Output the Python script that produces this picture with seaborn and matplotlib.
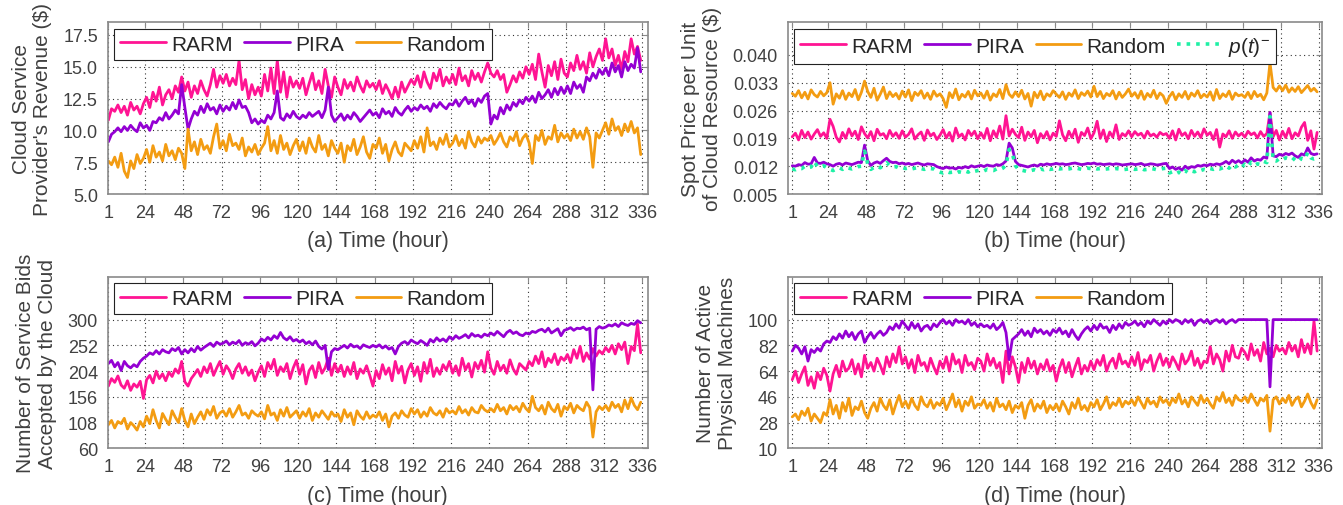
"""
4-panel comparison: RARM / PIRA / Random over 336 hours
"""

import matplotlib.pyplot as plt
import matplotlib.ticker as mticker
import numpy as np
import seaborn as sns

# ─── data (every other hour) ─────────────────────────────────────
HOURS = list(range(1, 337, 2))
XTICKS = [1, 24, 48, 72, 96, 120, 144, 168, 192, 216, 240, 264, 288, 312, 336]

# (a) revenue ($)
rev_rarm = [
    10.8, 11.7, 11.5, 12.0, 11.4, 11.9, 11.2, 12.2, 11.6, 11.9, 11.3, 12.1,
    12.6, 11.8, 13.0, 12.3, 13.4, 12.0, 12.8, 13.2, 12.5, 13.5, 13.0, 14.2,
    13.1, 13.8, 12.6, 13.5, 12.9, 13.9, 13.2, 12.7, 13.6, 14.8, 13.4, 14.3,
    13.7, 14.4, 13.5, 14.1, 13.6, 15.5, 13.2, 14.0, 12.5, 13.6, 12.8, 13.4,
    12.7, 14.4, 13.1, 14.9, 12.9, 15.5, 13.0, 14.6, 12.6, 14.2, 13.4, 13.9,
    13.3, 14.1, 12.8, 13.7, 14.5, 13.2, 13.9, 12.9, 14.8, 13.5, 12.6, 14.2,
    13.4, 12.8, 14.0, 13.3, 13.8, 13.1, 14.2, 13.5, 13.0, 13.9, 13.4, 13.7,
    13.2, 13.9, 12.9, 13.6, 13.1, 12.5, 13.4, 12.6, 13.8, 13.0, 13.5, 14.0,
    13.6, 14.3, 13.4, 14.6, 13.8, 13.3, 14.5, 13.9, 14.8, 13.5, 14.2, 13.7,
    14.4, 13.6, 14.9, 13.9, 14.3, 13.5, 14.7, 14.0, 14.5, 13.8, 14.6, 15.3,
    14.5, 14.2, 14.7, 14.0, 14.4, 13.0, 13.6, 14.3, 13.8, 14.6, 14.1, 15.0,
    14.4, 15.2, 14.0, 16.0, 14.6, 13.4, 15.1, 14.3, 15.4, 14.0, 15.6, 14.5,
    14.2, 15.3, 14.7, 15.9, 14.8, 15.4, 14.5, 16.1, 15.0, 15.8, 16.4, 15.5,
    17.2, 15.7, 16.4, 15.1, 15.9, 14.8, 16.2, 15.4, 17.2, 16.0, 16.6, 15.5,
]
rev_pira = [
    9.1, 9.7, 9.9, 10.2, 9.9, 10.3, 10.0, 10.4, 10.1, 9.9, 10.6, 10.2,
    10.4, 10.0, 10.7, 10.6, 11.0, 10.8, 11.4, 10.9, 11.2, 11.6, 11.3, 13.6,
    11.8, 10.1, 10.9, 11.5, 11.2, 11.9, 11.4, 12.1, 11.6, 11.8, 11.3, 12.0,
    11.5, 11.9, 11.6, 12.2, 11.7, 12.4, 11.8, 11.9, 11.4, 10.6, 10.9, 10.5,
    10.8, 10.6, 11.2, 10.9, 11.4, 13.1, 11.0, 10.8, 11.3, 11.0, 11.5, 11.1,
    10.9, 11.2, 11.0, 11.4, 11.1, 11.3, 11.5, 11.0, 11.6, 13.4, 11.2, 10.7,
    11.0, 11.3, 10.8, 11.2, 10.9, 11.4, 11.1, 10.7, 11.0, 11.3, 11.6, 11.2,
    11.4, 11.0, 11.7, 11.3, 11.5, 11.1, 11.8, 11.4, 11.2, 11.6, 11.9, 11.5,
    11.8, 11.6, 12.0, 11.7, 11.9, 11.5, 12.1, 11.8, 12.2, 11.9, 11.7, 12.1,
    12.0, 12.4, 11.9, 12.3, 12.6, 12.1, 12.4, 11.9, 12.5, 12.2, 12.7, 12.9,
    10.5, 11.2, 10.9, 11.8, 11.3, 12.0, 11.6, 12.2, 11.9, 12.4, 12.1, 12.6,
    12.3, 12.7, 12.2, 13.0, 12.5, 12.8, 13.2, 12.6, 13.3, 12.8, 13.4, 12.9,
    13.5, 12.9, 13.8, 13.3, 13.6, 13.0, 14.2, 13.9, 14.5, 14.1, 14.8, 14.4,
    14.9, 14.3, 15.3, 14.6, 15.1, 14.2, 15.4, 14.7, 15.2, 14.9, 16.5, 14.6,
]
rev_random = [
    7.6, 7.3, 7.9, 7.1, 8.2, 6.8, 6.3, 7.6, 7.0, 8.1, 7.4, 7.8,
    8.5, 7.5, 8.8, 7.9, 8.3, 7.6, 8.9, 8.0, 8.4, 7.7, 8.6, 8.2,
    7.0, 10.1, 8.4, 9.1, 8.1, 9.3, 8.5, 8.8, 8.2, 9.5, 10.5, 8.6,
    9.2, 8.4, 9.7, 8.8, 9.0, 8.5, 9.4, 8.0, 8.7, 8.3, 8.9, 8.1,
    8.6, 9.0, 10.3, 8.4, 9.2, 8.2, 9.6, 8.5, 9.0, 8.1, 8.8, 9.3,
    8.4, 9.1, 8.2, 9.4, 8.7, 8.3, 9.6, 8.5, 8.9, 8.0, 9.2, 8.6,
    8.2, 9.0, 7.5, 8.8, 8.4, 9.3, 8.1, 8.7, 9.5, 8.3, 7.8, 8.9,
    8.6, 9.4, 8.2, 8.9, 7.6, 8.5, 9.1, 8.3, 8.0, 9.0, 8.7, 8.4,
    9.2, 8.6, 9.5, 8.3, 10.2, 8.8, 9.1, 8.5, 9.4, 8.9, 9.7, 8.7,
    9.0, 9.6, 8.8, 9.3, 8.6, 9.9, 9.1, 8.7, 9.5, 9.0, 9.4, 9.2,
    9.6, 8.9, 9.3, 9.8, 9.1, 8.7, 9.5, 9.2, 9.9, 8.8, 9.4, 9.7,
    9.0, 7.4, 9.6, 9.2, 10.0, 8.9, 9.5, 9.3, 10.4, 9.1, 9.8, 9.4,
    9.7, 9.2, 10.1, 9.4, 9.9, 9.3, 10.2, 9.5, 7.1, 9.8, 9.4, 10.0,
    10.6, 9.7, 10.9, 10.0, 10.3, 9.6, 10.5, 9.9, 10.7, 9.8, 10.2, 8.1,
]

# (b) spot price, in 1/1000 $
price_rarm = [
    19.4, 20.3, 18.6, 21.0, 19.2, 20.6, 18.8, 20.1, 21.2, 19.5, 20.4, 19.0,
    23.8, 22.0, 19.3, 18.1, 20.5, 19.0, 21.4, 19.6, 20.8, 18.7, 21.9, 20.2,
    19.1, 20.7, 18.4, 21.3, 19.8, 20.2, 18.9, 21.0, 19.5, 20.4, 19.0, 20.9,
    19.3, 20.0, 21.4, 18.8, 19.9, 20.6, 18.5, 21.1, 19.6, 20.3, 18.7, 19.8,
    21.2, 19.1, 20.5, 18.3, 21.6, 19.4, 20.1, 18.6, 21.0, 19.7, 20.8, 18.9,
    20.4, 19.0, 21.5, 18.4, 20.9, 19.3, 22.1, 18.8, 24.7, 19.6, 21.3, 20.0,
    19.2, 21.8, 18.5, 20.6, 19.4, 21.0, 17.9, 20.2, 19.1, 20.7, 18.6, 20.3,
    19.5, 23.4, 19.9, 18.4, 20.8, 19.2, 21.3, 18.0, 20.5, 19.7, 21.6, 18.9,
    20.4, 23.3, 19.0, 21.1, 18.2, 20.6, 19.3, 22.4, 18.7, 20.2, 19.6, 20.9,
    19.4, 20.7, 19.8, 20.3, 19.1, 20.8, 19.6, 20.1, 19.3, 20.5, 19.9, 20.2,
    19.0, 20.9, 18.6, 21.3, 19.7, 20.4, 18.9, 21.0, 19.5, 20.6, 19.2, 21.4,
    19.8, 20.5, 18.7, 21.2, 16.8, 20.1, 19.4, 20.9, 19.0, 20.6, 19.6, 20.3,
    19.3, 20.8, 19.9, 20.4, 19.1, 20.7, 19.5, 20.2, 25.5, 19.4, 21.0, 18.6,
    20.8, 19.2, 21.5, 18.9, 20.4, 19.6, 21.8, 23.0, 18.5, 20.9, 16.3, 20.5,
]
price_pira = [
    12.1, 12.0, 12.4, 12.2, 12.9, 12.5, 12.6, 14.2, 12.8, 12.7, 13.0, 12.6,
    12.4, 12.0, 12.5, 12.7, 12.3, 12.8, 12.6, 12.4, 12.7, 13.0, 12.9, 17.3,
    13.4, 12.2, 12.8, 13.1, 12.7, 13.4, 14.0, 13.2, 12.9, 13.0, 12.6, 12.8,
    12.5, 12.7, 12.4, 12.6, 12.8, 12.5, 12.3, 12.6, 12.5, 12.4, 11.9, 11.6,
    11.4, 11.8, 11.5, 11.6, 11.3, 11.7, 11.5, 11.9, 11.6, 12.1, 11.8, 12.0,
    12.2, 11.9, 12.3, 12.1, 12.0, 12.4, 12.2, 12.6, 13.3, 17.8, 16.6, 13.2,
    12.4, 12.2, 12.0, 11.8, 12.1, 12.3, 12.0, 12.5, 12.3, 12.6, 12.4, 12.5,
    12.7, 12.5, 12.6, 12.4, 12.5, 12.7, 12.8, 12.6, 12.4, 12.5, 12.7, 12.6,
    12.8, 12.5, 12.6, 12.4, 12.5, 12.6, 12.4, 12.6, 12.5, 12.3, 12.4, 12.5,
    12.6, 12.4, 12.5, 12.7, 12.3, 12.4, 12.6, 12.5, 12.3, 12.4, 12.6, 12.7,
    11.4, 11.8, 11.2, 11.6, 11.0, 12.0, 11.4, 11.9, 11.7, 12.2, 12.0, 12.3,
    12.1, 12.5, 12.3, 12.6, 12.4, 12.7, 13.2, 12.6, 13.5, 12.9, 13.4, 12.8,
    13.6, 13.0, 14.1, 13.3, 13.7, 13.5, 14.3, 14.0, 25.5, 14.6, 14.4, 15.0,
    14.7, 15.2, 14.9, 15.3, 14.6, 14.2, 15.1, 14.8, 16.6, 15.2, 14.9, 15.1,
]
price_random = [
    30.3, 29.6, 31.0, 29.2, 30.6, 28.9, 31.2, 30.0, 29.4, 30.8, 29.7, 30.5,
    33.0, 27.6, 30.2, 29.1, 31.0, 28.8, 30.4, 29.5, 31.3, 28.7, 30.6, 33.4,
    30.8, 29.3, 31.6, 28.6, 30.1, 31.9, 29.0, 30.7, 29.5, 30.3, 28.9, 30.9,
    29.4, 31.2, 28.5, 30.6, 29.8, 31.0, 29.1, 30.4, 28.8, 30.9, 29.6, 30.2,
    29.0, 26.8, 30.5, 29.2, 31.4, 28.7, 30.1, 29.4, 30.8, 28.9, 31.1, 29.7,
    30.4, 29.1, 30.9, 28.6, 30.2, 29.5, 31.3, 29.0, 32.5, 30.1, 29.3, 30.7,
    29.5, 31.1, 28.9, 30.3, 27.1, 30.6, 29.2, 30.9, 28.7, 30.2, 29.6, 31.0,
    30.1, 29.3, 30.7, 28.8, 30.4, 29.6, 31.2, 29.0, 30.5, 29.8, 30.9, 29.4,
    32.1, 29.5, 30.8, 29.0, 30.3, 29.7, 31.0, 28.9, 30.6, 29.3, 30.2, 31.4,
    29.6, 30.5, 29.1, 30.9, 28.8, 30.3, 29.4, 31.1, 29.0, 30.4, 29.7, 27.8,
    29.5, 30.6, 28.7, 30.2, 29.3, 30.8, 28.9, 30.4, 29.6, 31.0, 29.2, 30.1,
    29.4, 30.7, 28.6, 31.3, 29.0, 30.2, 29.5, 30.9, 28.8, 30.4, 29.7, 30.0,
    29.3, 30.6, 29.0, 30.8, 29.5, 30.1, 28.7, 30.4, 38.0, 31.8, 30.9, 32.2,
    31.0, 32.4, 30.6, 31.7, 30.8, 32.0, 30.5, 31.4, 32.3, 30.9, 31.6, 30.7,
]
price_floor = [
    11.3, 11.1, 11.5, 11.4, 12.0, 11.7, 11.8, 13.2, 11.9, 11.8, 12.1, 11.6,
    11.2, 10.9, 11.3, 11.6, 11.2, 11.7, 11.5, 11.3, 11.6, 11.9, 12.0, 15.8,
    12.6, 11.2, 11.7, 12.0, 11.6, 12.3, 12.9, 12.1, 11.8, 11.9, 11.5, 11.7,
    11.4, 11.6, 11.3, 11.5, 11.7, 11.4, 11.2, 11.5, 11.4, 11.3, 10.8, 10.5,
    10.3, 10.7, 10.4, 10.5, 10.2, 10.6, 10.4, 10.8, 10.5, 11.0, 10.7, 10.9,
    11.1, 10.8, 11.2, 11.0, 10.9, 11.3, 11.1, 11.5, 12.3, 16.2, 15.3, 12.1,
    11.2, 11.0, 10.8, 10.6, 10.9, 11.1, 10.8, 11.3, 11.1, 11.4, 11.2, 11.3,
    11.5, 11.3, 11.4, 11.2, 11.3, 11.5, 11.6, 11.4, 11.2, 11.3, 11.5, 11.4,
    11.6, 11.3, 11.4, 11.2, 11.3, 11.4, 11.2, 11.4, 11.3, 11.1, 11.2, 11.3,
    11.4, 11.2, 11.3, 11.5, 11.1, 11.2, 11.4, 11.3, 11.1, 11.2, 11.4, 11.5,
    10.3, 10.6, 10.1, 10.5, 10.0, 10.9, 10.3, 10.8, 10.6, 11.1, 10.9, 11.2,
    11.0, 11.4, 11.2, 11.5, 11.3, 11.6, 12.1, 11.5, 12.4, 11.8, 12.3, 11.7,
    12.5, 11.9, 13.0, 12.2, 12.6, 12.4, 13.2, 12.9, 24.5, 13.5, 13.3, 13.9,
    13.6, 14.1, 13.8, 14.2, 13.5, 13.1, 14.0, 13.7, 15.4, 14.1, 13.8, 14.0,
]

# (c) accepted bids
bids_rarm = [
    176, 190, 183, 195, 178, 172, 186, 168, 180, 174, 185, 153,
    188, 196, 182, 204, 190, 199, 186, 202, 194, 208, 200, 222,
    184, 176, 190, 198, 207, 194, 212, 201, 218, 196, 210, 222,
    198, 214, 205, 190, 208, 218, 200, 212, 196, 206, 186, 202,
    214, 194, 220, 208, 226, 196, 212, 203, 218, 190, 210, 224,
    198, 216, 180, 205, 214, 192, 220, 200, 210, 228, 196, 218,
    202, 215, 194, 212, 198, 220, 190, 208, 200, 214, 196, 176,
    205, 190, 216, 198, 210, 186, 222, 200, 213, 182, 206, 218,
    196, 212, 185, 220, 200, 226, 194, 210, 198, 216, 206, 222,
    200, 214, 196, 228, 206, 218, 193, 220, 208, 224, 202, 240,
    210, 198, 222, 205, 215, 200, 225, 208, 198, 218, 212, 206,
    222, 214, 232, 218, 240, 212, 228, 220, 236, 216, 230, 224,
    235, 220, 244, 228, 250, 222, 238, 226, 246, 232, 242, 236,
    248, 240, 252, 236, 255, 244, 258, 218, 250, 242, 292, 238,
]
bids_pira = [
    218, 224, 212, 220, 205, 222, 214, 210, 216, 212, 222, 228,
    232, 238, 235, 242, 236, 244, 240, 238, 246, 242, 248, 236,
    244, 238, 246, 240, 250, 243, 248, 252, 256, 250, 258, 254,
    256, 260, 253, 258, 255, 261, 252, 257, 254, 259, 251, 256,
    264, 260, 267, 262, 270, 265, 276, 266, 262, 268, 260, 263,
    258, 262, 255, 259, 253, 260, 250, 245, 252, 207, 240, 246,
    244, 248, 252, 247, 254, 249, 251, 246, 253, 250, 248, 252,
    249, 253, 247, 251, 245, 248, 236, 250, 256, 259, 254, 262,
    258, 255, 261, 257, 252, 263, 258, 266, 260, 264, 259, 268,
    263, 270, 265, 268, 272, 266, 274, 269, 271, 267, 273, 270,
    275, 271, 278, 273, 268, 276, 280, 274, 277, 272, 270, 275,
    273, 278, 276, 280, 282, 277, 284, 275, 279, 283, 270, 280,
    282, 285, 280, 284, 283, 286, 281, 284, 169, 282, 287, 284,
    286, 290, 288, 292, 287, 294, 291, 289, 293, 291, 298, 294,
]
bids_random = [
    104, 112, 98, 110, 106, 116, 96, 108, 102, 94, 110, 100,
    120, 106, 132, 112, 98, 125, 114, 104, 130, 118, 108, 134,
    112, 100, 124, 106, 118, 128, 114, 132, 122, 138, 116, 126,
    130, 120, 134, 118, 128, 140, 122, 126, 116, 130, 124, 120,
    128, 115, 140, 122, 126, 112, 132, 120, 136, 118, 124, 130,
    116, 128, 120, 134, 112, 126, 118, 130, 122, 114, 128, 120,
    124, 110, 132, 118, 126, 104, 130, 120, 114, 128, 116, 122,
    118, 128, 112, 124, 100, 120, 126, 116, 130, 122, 118, 134,
    124, 132, 118, 128, 120, 136, 126, 122, 130, 118, 134, 126,
    130, 124, 138, 126, 132, 122, 136, 128, 126, 140, 132, 128,
    134, 128, 142, 130, 136, 124, 140, 132, 138, 128, 144, 134,
    128, 157, 136, 130, 140, 124, 146, 134, 128, 142, 120, 138,
    132, 144, 126, 140, 134, 130, 146, 136, 81, 128, 138, 132,
    140, 130, 146, 136, 142, 128, 150, 134, 154, 140, 132, 146,
]

# (d) active physical machines
pm_rarm = [
    58, 64, 56, 62, 67, 54, 60, 52, 63, 58, 66, 61,
    50, 62, 68, 60, 71, 64, 66, 72, 62, 69, 60, 75,
    66, 70, 64, 73, 68, 62, 74, 67, 76, 70, 81, 69,
    74, 66, 72, 63, 75, 68, 70, 64, 73, 67, 62, 71,
    66, 74, 64, 76, 69, 72, 63, 75, 68, 70, 65, 73,
    71, 64, 76, 68, 73, 66, 70, 56, 78, 62, 74, 67,
    56, 70, 63, 73, 66, 71, 62, 69, 65, 72, 64, 68,
    57, 66, 72, 63, 70, 60, 67, 73, 62, 68, 64, 71,
    65, 72, 68, 75, 64, 70, 73, 66, 76, 69, 71, 67,
    74, 68, 77, 65, 72, 70, 75, 64, 71, 76, 68, 73,
    67, 74, 70, 65, 76, 69, 72, 78, 68, 73, 66, 71,
    70, 81, 69, 76, 72, 64, 78, 71, 82, 74, 73, 80,
    77, 72, 83, 75, 79, 71, 84, 76, 80, 74, 82, 78,
    80, 76, 84, 78, 82, 74, 86, 77, 83, 76, 99, 78,
]
pm_pira = [
    78, 82, 80, 76, 81, 71, 79, 77, 80, 78, 83, 85,
    84, 88, 86, 90, 87, 92, 88, 91, 86, 90, 92, 84,
    88, 91, 87, 90, 92, 89, 91, 95, 93, 97, 94, 99,
    96, 93, 98, 94, 97, 92, 95, 96, 93, 97, 95, 98,
    100, 97, 99, 96, 100, 98, 99, 97, 100, 96, 98, 95,
    97, 95, 96, 94, 97, 93, 95, 98, 91, 72, 86, 88,
    90, 93, 89, 92, 88, 94, 91, 93, 90, 92, 89, 93,
    91, 94, 90, 92, 88, 93, 89, 86, 90, 93, 95, 92,
    96, 93, 97, 94, 95, 91, 96, 93, 97, 94, 98, 96,
    97, 99, 96, 98, 95, 99, 97, 100, 98, 96, 99, 97,
    100, 98, 100, 99, 97, 100, 98, 100, 96, 99, 100, 98,
    100, 97, 99, 100, 98, 100, 97, 99, 100, 98, 100, 100,
    100, 100, 100, 100, 100, 100, 100, 100, 53, 100, 100, 100,
    100, 100, 100, 100, 100, 100, 100, 100, 100, 100, 100, 100,
]
pm_random = [
    32, 34, 30, 36, 33, 38, 29, 34, 31, 28, 35, 33,
    44, 34, 40, 31, 42, 36, 45, 33, 39, 37, 43, 35,
    31, 38, 42, 36, 45, 40, 37, 44, 34, 41, 47, 39,
    43, 38, 45, 40, 37, 46, 41, 39, 44, 38, 42, 40,
    45, 37, 42, 48, 39, 44, 36, 43, 40, 46, 38, 41,
    40, 44, 38, 42, 36, 45, 39, 41, 37, 43, 35, 40,
    38, 42, 31, 40, 44, 36, 41, 38, 43, 35, 40, 37,
    41, 36, 43, 39, 34, 42, 38, 45, 37, 40, 36, 42,
    39, 44, 37, 41, 46, 38, 42, 40, 45, 39, 43, 41,
    44, 40, 46, 42, 38, 45, 41, 43, 39, 46, 42, 44,
    40, 45, 42, 48, 41, 44, 39, 46, 43, 40, 47, 42,
    45, 41, 38, 46, 43, 49, 42, 45, 40, 47, 44, 43,
    46, 42, 48, 44, 40, 45, 43, 47, 22, 44, 46, 41,
    45, 42, 47, 40, 44, 46, 39, 43, 48, 42, 38, 44,
]

# ─── style ───────────────────────────────────────────────────────
C_RARM = "#FF1493"
C_PIRA = "#9400D3"
C_RAND = "#F39C12"
C_PT = "#1EF0A5"
TXT = "#404040"
FRAME = "#8a8a8a"

sns.set_theme(style="white")
plt.rcParams["font.family"] = ["Liberation Sans", "DejaVu Sans"]
plt.rcParams["mathtext.fontset"] = "custom"
plt.rcParams["mathtext.it"] = "Liberation Sans:italic"
plt.rcParams["mathtext.rm"] = "Liberation Sans"

fig = plt.figure(figsize=(13.43, 5.06), dpi=100)

ax_a = fig.add_axes([0.0802, 0.6146, 0.4021, 0.3394])
ax_b = fig.add_axes([0.5865, 0.6146, 0.3981, 0.3394])
ax_c = fig.add_axes([0.0802, 0.1120, 0.4021, 0.3392])
ax_d = fig.add_axes([0.5865, 0.1120, 0.3981, 0.3392])


def draw(ax, series, ylim, yticks, yfmt, xlim, ylabel, xlabel, ncol=3):
    for y, color, label, ls, lw in series:
        sns.lineplot(x=HOURS, y=y, color=color, lw=lw, ls=ls, label=label, ax=ax)
    ax.set_xlim(*xlim)
    ax.set_ylim(*ylim)
    ax.set_xticks(XTICKS)
    ax.set_yticks(yticks)
    ax.yaxis.set_major_formatter(mticker.FormatStrFormatter(yfmt))
    ax.grid(True, color="#333333", linestyle=(0, (1, 3)), linewidth=0.8)
    ax.tick_params(direction="in", top=True, right=True, length=4,
                   width=0.8, color=FRAME, labelsize=13, labelcolor=TXT, pad=7)
    for sp in ax.spines.values():
        sp.set_color(FRAME)
        sp.set_linewidth(1.2)
    ax.set_ylabel(ylabel, fontsize=15, color=TXT, linespacing=1.15, labelpad=8)
    ax.set_xlabel(xlabel, fontsize=15.5, color=TXT, labelpad=7)
    leg = ax.legend(loc="upper left", ncol=ncol, fontsize=15, frameon=True,
                    fancybox=False, framealpha=1, edgecolor="#222222",
                    handlelength=2.2, handletextpad=0.25, columnspacing=0.55,
                    borderaxespad=0.3, borderpad=0.3)
    leg.get_frame().set_linewidth(0.8)


draw(ax_a,
     [(rev_rarm, C_RARM, "RARM", "-", 2.0),
      (rev_pira, C_PIRA, "PIRA", "-", 2.0),
      (rev_random, C_RAND, "Random", "-", 2.0)],
     (5, 18.5), [5, 7.5, 10, 12.5, 15, 17.5], "%.1f", (0.6, 339.4),
     "Cloud Service\nProvider's Revenue ($)", "(a) Time (hour)")

price = [np.array(v) / 1000 for v in (price_rarm, price_pira, price_random, price_floor)]
draw(ax_b,
     [(price[0], C_RARM, "RARM", "-", 2.0),
      (price[1], C_PIRA, "PIRA", "-", 2.0),
      (price[2], C_RAND, "Random", "-", 2.0),
      (price[3], C_PT, r"$p(t)^{-}$", ":", 2.6)],
     (0.005, 0.0482), [0.005, 0.012, 0.019, 0.026, 0.033, 0.040], "%.3f",
     (-1.93, 338.3),
     "Spot Price per Unit\nof Cloud Resource ($)", "(b) Time (hour)", ncol=4)

draw(ax_c,
     [(bids_rarm, C_RARM, "RARM", "-", 2.0),
      (bids_pira, C_PIRA, "PIRA", "-", 2.0),
      (bids_random, C_RAND, "Random", "-", 2.0)],
     (60, 380), [60, 108, 156, 204, 252, 300], "%d", (0.6, 339.4),
     "Number of Service Bids\nAccepted by the Cloud", "(c) Time (hour)")

draw(ax_d,
     [(pm_rarm, C_RARM, "RARM", "-", 2.0),
      (pm_pira, C_PIRA, "PIRA", "-", 2.0),
      (pm_random, C_RAND, "Random", "-", 2.0)],
     (10, 130), [10, 28, 46, 64, 82, 100], "%d", (-1.93, 338.3),
     "Number of Active\nPhysical Machines", "(d) Time (hour)")

fig.savefig("out.png", dpi=100)
